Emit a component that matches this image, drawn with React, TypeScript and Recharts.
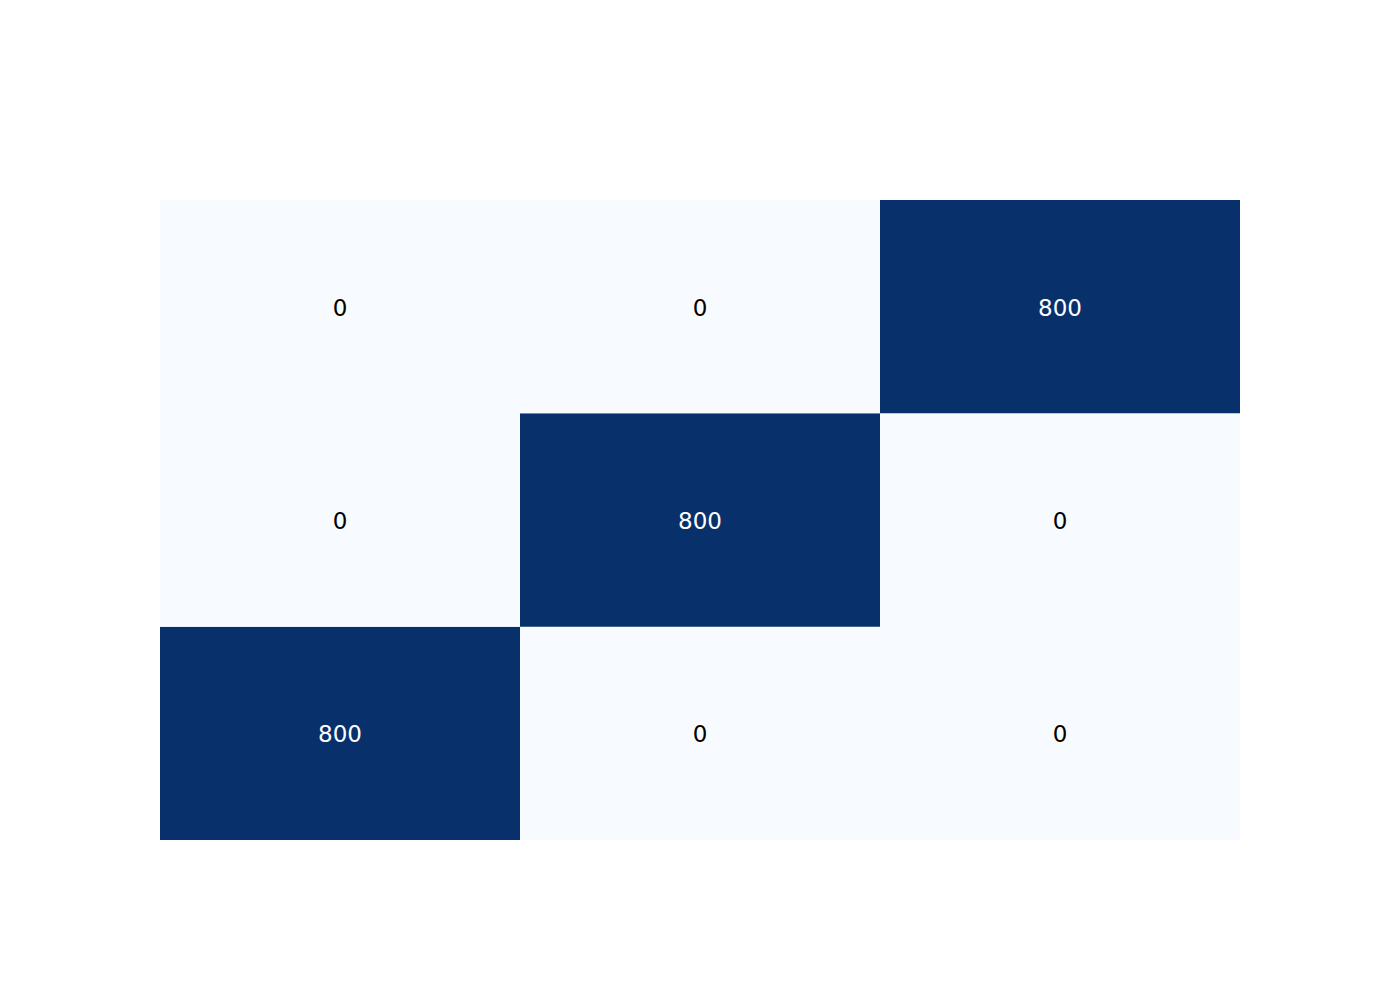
import { BarChart, Bar, XAxis, YAxis, Cell, LabelList } from "recharts";

// confusion matrix, rows top -> bottom, columns left -> right
const columns = ["0", "1", "2"];
const row0 = [0, 0, 800];
const row1 = [0, 800, 0];
const row2 = [800, 0, 0];

const maxCount = 800;
const lowColor = [247, 251, 255];
const highColor = [8, 48, 107];

function cellColor(v: number) {
  const t = v / maxCount;
  const c = lowColor.map((l, i) => Math.round(l + (highColor[i] - l) * t));
  return `rgb(${c[0]},${c[1]},${c[2]})`;
}

// stacked from the bottom: row2 first, then row1, then row0 on top
const rowsBottomUp = [
  { key: "r2", values: row2 },
  { key: "r1", values: row1 },
  { key: "r0", values: row0 },
];

const data = columns.map((name, c) => {
  const d: any = { name };
  rowsBottomUp.forEach((r) => {
    d[r.key] = 1;
    d[r.key + "_count"] = r.values[c];
  });
  return d;
});

const renderLabel = (props: any) => {
  const { x, y, width, height, value } = props;
  return (
    <text
      x={x + width / 2}
      y={y + height / 2 + 1}
      textAnchor="middle"
      dominantBaseline="central"
      fontFamily="DejaVu Sans"
      fontSize={23}
      fill={value > maxCount / 2 ? "#ffffff" : "#000000"}
    >
      {value}
    </text>
  );
};

export default function App() {
  return (
    <div style={{ background: "#ffffff" }}>
      <BarChart
        width={1392}
        height={992}
        data={data}
        margin={{ top: 192, right: 160, bottom: 160, left: 152 }}
        barCategoryGap={0}
        barGap={0}
      >
        <XAxis dataKey="name" hide />
        <YAxis type="number" domain={[0, 3]} hide />
        {rowsBottomUp.map((r) => (
          <Bar
            key={r.key}
            dataKey={r.key}
            stackId="m"
            isAnimationActive={false}
            stroke="none"
          >
            {r.values.map((v, i) => (
              <Cell key={i} fill={cellColor(v)} />
            ))}
            <LabelList dataKey={r.key + "_count"} content={renderLabel} />
          </Bar>
        ))}
      </BarChart>
    </div>
  );
}
